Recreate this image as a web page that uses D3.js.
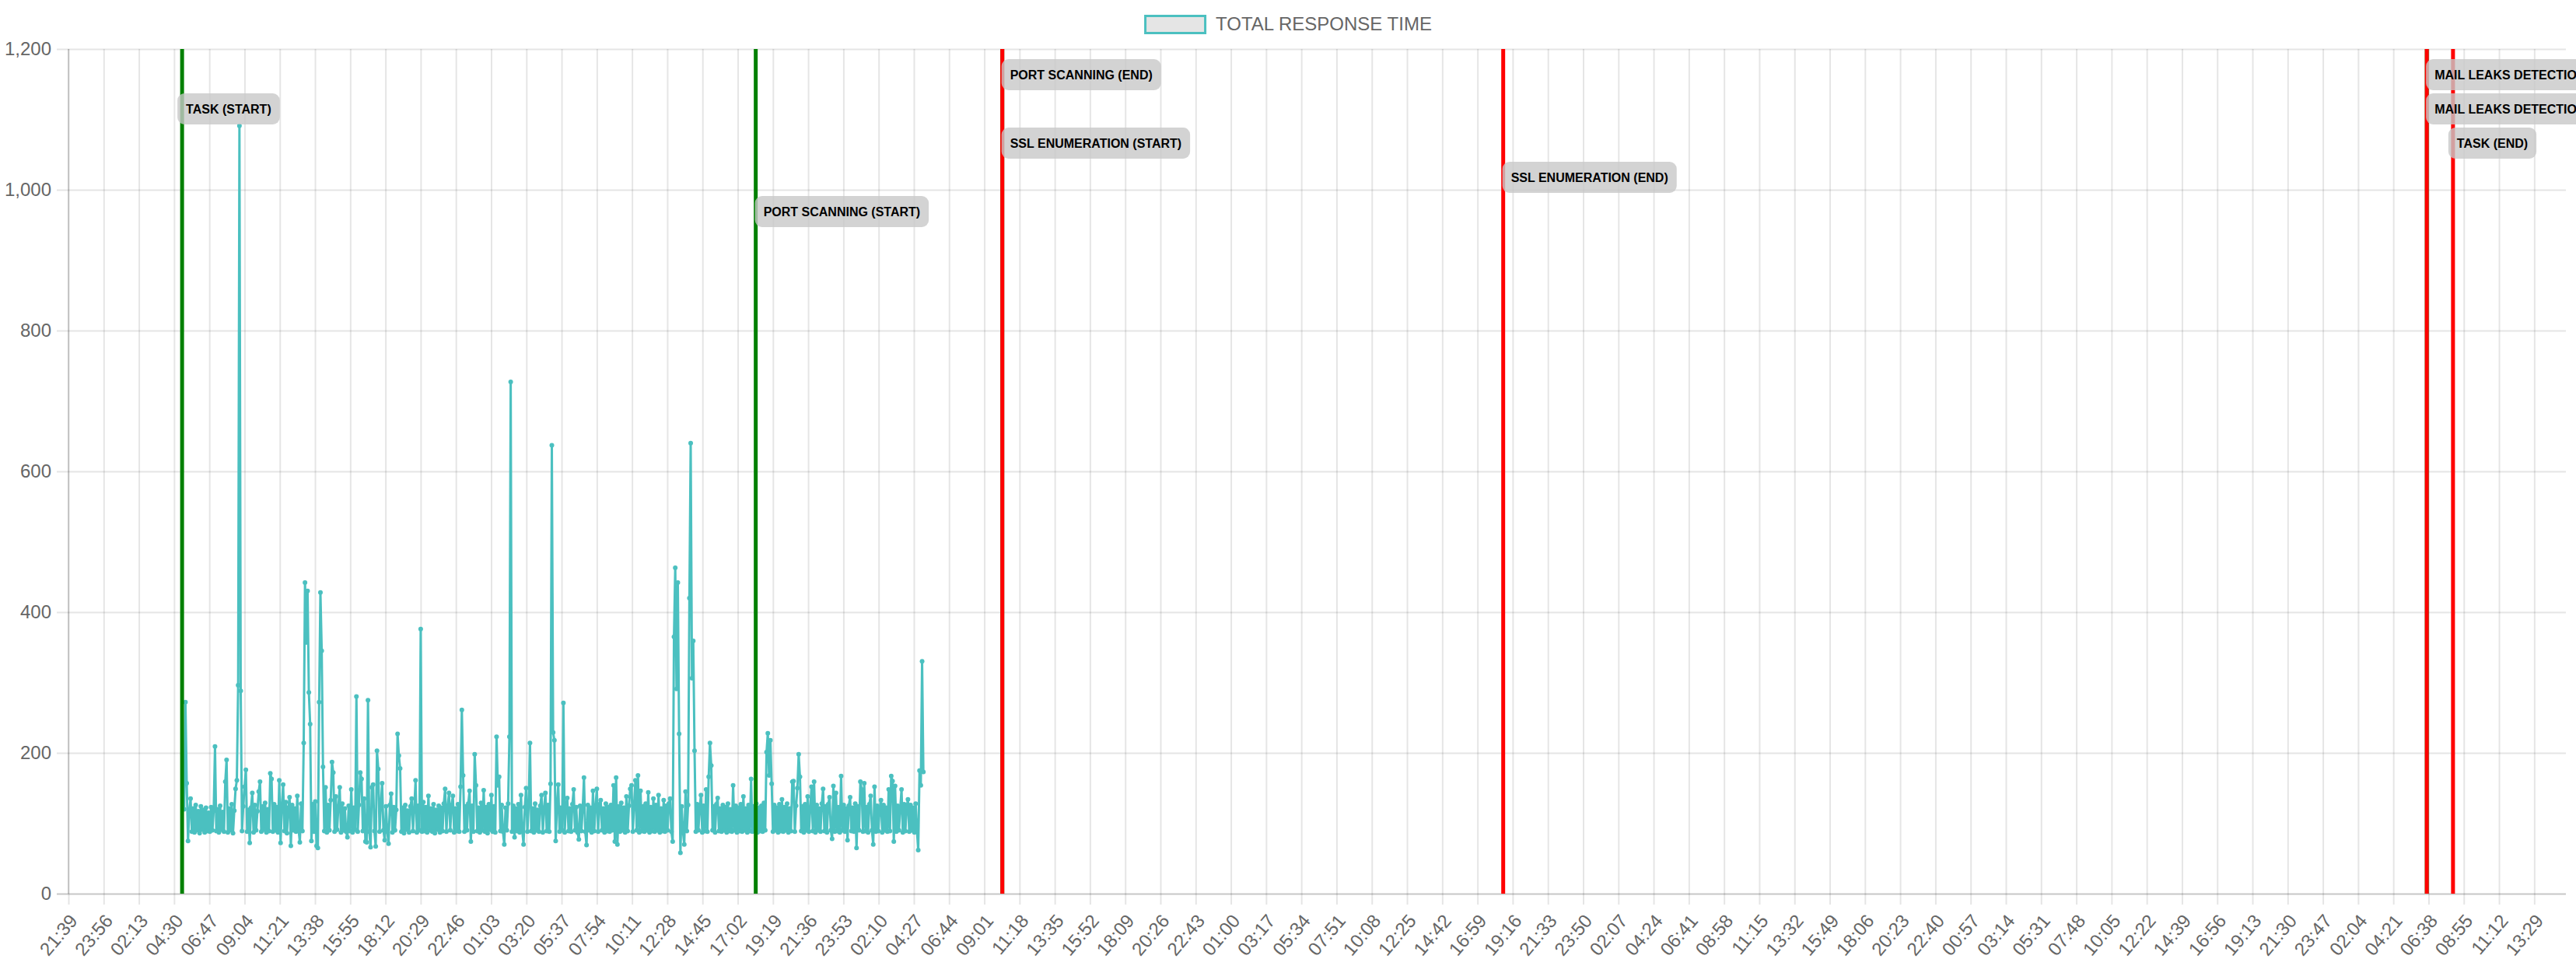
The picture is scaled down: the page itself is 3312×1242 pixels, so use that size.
<!DOCTYPE html>
<html>
<head>
<meta charset="utf-8">
<script src="https://cdn.jsdelivr.net/npm/d3@7"></script>
<style>
  body { margin: 0; background: #fff; }
  text { font-family: "Liberation Sans", Arial, sans-serif; }
</style>
</head>
<body>
<div id="chart"></div>
<script>
// x axis labels, one every 137 minutes starting at 21:39 (day 0)
var tickLabels = ["21:39","23:56","02:13","04:30","06:47","09:04","11:21","13:38","15:55","18:12",
  "20:29","22:46","01:03","03:20","05:37","07:54","10:11","12:28","14:45","17:02",
  "19:19","21:36","23:53","02:10","04:27","06:44","09:01","11:18","13:35","15:52",
  "18:09","20:26","22:43","01:00","03:17","05:34","07:51","10:08","12:25","14:42",
  "16:59","19:16","21:33","23:50","02:07","04:24","06:41","08:58","11:15","13:32",
  "15:49","18:06","20:23","22:40","00:57","03:14","05:31","07:48","10:05","12:22",
  "14:39","16:56","19:13","21:30","23:47","02:04","04:21","06:38","08:55","11:12","13:29"];
var tickStep = 137;
var lastMinute = 9713;

var yTicks = [0, 200, 400, 600, 800, 1000, 1200];

// total response time, one sample every 5 minutes
var seriesStart = "1 05:09";
var sampleStep = 5;
var responseTimes = [
  120,272,157,75,118,135,88,121,87,126,90,117,86,124,91,119,87,122,89,115,88,123,90,118,
  209,89,120,87,125,91,116,88,159,190,87,121,90,127,86,118,149,161,296,1091,288,89,124,152,
  176,88,119,72,122,143,87,126,90,117,145,159,88,124,91,129,87,120,89,171,163,88,127,90,
  123,87,161,72,125,155,89,130,86,122,137,68,126,90,121,88,139,91,73,128,89,214,442,357,
  430,286,241,75,127,88,131,68,65,272,428,345,180,89,151,87,126,90,133,187,172,88,138,91,
  124,151,87,128,90,121,88,80,125,89,148,87,122,91,280,88,126,172,163,89,135,74,73,275,
  88,66,151,155,89,67,203,177,88,127,157,90,76,124,88,71,126,142,87,123,90,119,227,196,
  178,88,122,86,126,91,118,87,124,135,89,121,161,87,125,90,376,88,130,89,123,87,139,90,
  121,88,127,86,119,91,125,87,122,89,128,149,88,124,143,90,126,139,87,121,89,127,88,152,
  261,168,88,124,90,128,146,74,125,88,198,154,89,122,87,129,90,147,88,123,86,127,91,140,
  88,124,87,223,154,166,89,126,88,70,122,90,128,223,727,88,125,80,121,89,127,87,140,90,
  70,123,150,88,126,214,89,121,87,128,90,119,88,125,140,87,122,143,89,126,88,156,637,229,
  218,75,124,155,88,122,90,271,87,126,136,89,121,88,127,148,90,123,87,77,125,89,120,165,
  88,69,126,90,122,87,146,89,124,149,88,127,133,90,121,87,128,89,123,88,126,90,154,74,
  165,70,124,88,129,90,122,87,138,89,125,149,154,88,127,161,90,168,87,146,89,124,88,128,
  90,144,87,123,89,135,88,126,90,140,87,121,89,133,88,125,90,128,135,88,74,365,463,291,
  442,227,58,124,88,70,145,89,126,420,640,306,359,203,88,127,90,122,140,87,125,89,148,88,
  166,214,182,90,124,87,127,136,89,121,88,126,90,123,87,128,89,120,88,154,90,125,87,122,
  89,127,88,138,90,121,87,126,89,163,88,124,90,128,87,122,89,125,88,129,90,201,228,168,
  218,156,88,126,90,122,87,127,89,134,88,123,90,128,87,121,89,159,160,88,125,150,198,166,
  89,124,87,127,90,138,88,122,152,89,159,87,126,90,121,88,128,149,89,124,87,127,137,90,
  78,153,88,143,89,123,87,167,90,126,88,121,76,125,137,89,122,88,128,65,124,90,159,148,
  88,157,89,123,87,127,139,90,70,152,88,125,89,121,133,87,126,90,122,88,148,89,167,160,
  74,153,88,125,90,121,148,87,127,89,123,134,88,126,90,122,87,128,89,62,175,154,330,173
];

// annotation events (day offset + time of day)
var eventNames = ["PORT SCANNING (END)","TASK (START)","SSL ENUMERATION (START)","SSL ENUMERATION (END)",
  "PORT SCANNING (START)","MAIL LEAKS DETECTION (START)","MAIL LEAKS DETECTION (END)","TASK (END)"];
var eventTimes = ["3 10:11","1 05:01","3 10:11","4 18:39","2 18:12","7 06:31","7 06:31","7 08:13"];
var eventKinds = ["end","start","start","end","start","start","end","end"];

var seriesName = "TOTAL RESPONSE TIME";

// minutes since the first label (day 0, 21:39)
function toMinutes(s) {
    var p = s.split(" ");
    var hm = p[1].split(":");
    return (+p[0]) * 1440 + (+hm[0]) * 60 + (+hm[1]) - (21 * 60 + 39);
}

var svgWidth = 3312;
var svgHeight = 1242;
var chartMargin = { top: 63, right: 13, bottom: 93, left: 88 };
var chartWidth = svgWidth - chartMargin.left - chartMargin.right;
var chartHeight = svgHeight - chartMargin.top - chartMargin.bottom;

var svg = d3.select("#chart").append("svg")
    .attr("width", svgWidth)
    .attr("height", svgHeight);

var chartGroup = svg.append("g")
    .attr("transform", `translate(${chartMargin.left}, ${chartMargin.top})`);

var xScale = d3.scaleLinear().domain([0, lastMinute]).range([0, chartWidth]);
var yScale = d3.scaleLinear().domain([0, 1200]).range([chartHeight, 0]);

// vertical grid + x labels
var xAxis = d3.axisBottom(xScale)
    .tickValues(tickLabels.map((d, i) => i * tickStep))
    .tickFormat((d, i) => tickLabels[i])
    .tickSize(chartHeight + 14);
var xg = chartGroup.append("g").call(xAxis);
xg.select(".domain").remove();
xg.selectAll("line").attr("stroke", "rgba(0,0,0,0.1)").attr("stroke-width", 2);
xg.selectAll("text")
    .attr("x", 0).attr("y", 0).attr("dy", "0.35em")
    .attr("text-anchor", "end")
    .attr("transform", `translate(6, ${chartHeight + 30}) rotate(-50)`)
    .attr("font-size", "24px")
    .attr("font-family", "Liberation Sans, Arial, sans-serif")
    .attr("fill", "#666");

// horizontal grid + y labels
var yAxis = d3.axisLeft(yScale)
    .tickValues(yTicks)
    .tickFormat(d3.format(","))
    .tickSize(chartWidth + 15)
    .tickPadding(7);
var yg = chartGroup.append("g").attr("transform", `translate(${chartWidth}, 0)`).call(yAxis);
yg.select(".domain").remove();
yg.selectAll("line").attr("stroke", d => d === 0 ? "rgba(0,0,0,0.22)" : "rgba(0,0,0,0.1)").attr("stroke-width", 2);
yg.selectAll("text")
    .attr("font-size", "24px")
    .attr("font-family", "Liberation Sans, Arial, sans-serif")
    .attr("fill", "#666");

// left axis line
chartGroup.append("line")
    .attr("x1", 0).attr("x2", 0)
    .attr("y1", 0).attr("y2", chartHeight)
    .attr("stroke", "rgba(0,0,0,0.16)")
    .attr("stroke-width", 2);

// data line and points
var t0 = toMinutes(seriesStart);
var line = d3.line()
    .x((d, i) => xScale(t0 + i * sampleStep))
    .y(d => yScale(d));

chartGroup.append("path")
    .datum(responseTimes)
    .attr("d", line)
    .attr("fill", "none")
    .attr("stroke", "rgb(75,192,192)")
    .attr("stroke-width", 3)
    .attr("stroke-linejoin", "round");

chartGroup.selectAll(".pt")
    .data(responseTimes)
    .enter()
    .append("circle")
    .classed("pt", true)
    .attr("cx", (d, i) => xScale(t0 + i * sampleStep))
    .attr("cy", d => yScale(d))
    .attr("r", 3)
    .attr("fill", "rgb(75,192,192)");

// annotation lines, starts below ends
var events = eventNames.map((n, i) => ({ name: n, t: toMinutes(eventTimes[i]), kind: eventKinds[i], slot: i % 5 }));
var ordered = events.filter(e => e.kind === "start").concat(events.filter(e => e.kind === "end"));
chartGroup.selectAll(".evline")
    .data(ordered)
    .enter()
    .append("line")
    .attr("x1", d => xScale(d.t)).attr("x2", d => xScale(d.t))
    .attr("y1", 0).attr("y2", chartHeight)
    .attr("stroke", d => d.kind === "start" ? "green" : "red")
    .attr("stroke-width", 5);

// annotation labels
events.forEach(function(e) {
    var cy = 33 + e.slot * 44;
    var x0 = xScale(e.t) - (e.name.indexOf("TASK") === 0 ? 6 : 1);
    var g = chartGroup.append("g");
    var rect = g.append("rect")
        .attr("y", cy - 20)
        .attr("height", 40)
        .attr("rx", 9)
        .attr("fill", "rgba(200,200,200,0.8)");
    var txt = g.append("text")
        .attr("x", x0 + 11)
        .attr("y", cy)
        .attr("dy", "0.35em")
        .attr("font-size", "16px")
        .attr("font-weight", "bold")
        .attr("fill", "#000")
        .text(e.name);
    var w = txt.node().getComputedTextLength();
    rect.attr("x", x0).attr("width", w + 22);
});

// legend
var legend = svg.append("g");
var legText = legend.append("text")
    .attr("y", 31)
    .attr("dy", "0.35em")
    .attr("font-size", "24px")
    .attr("fill", "#666")
    .text(seriesName);
var lw = legText.node().getComputedTextLength();
var lx = svgWidth / 2 - (80 + 12 + lw) / 2;
legend.append("rect")
    .attr("x", lx + 1.5).attr("y", 20.5)
    .attr("width", 77).attr("height", 22)
    .attr("fill", "rgba(0,0,0,0.1)")
    .attr("stroke", "rgb(75,192,192)")
    .attr("stroke-width", 3);
legText.attr("x", lx + 92);
</script>
</body>
</html>
